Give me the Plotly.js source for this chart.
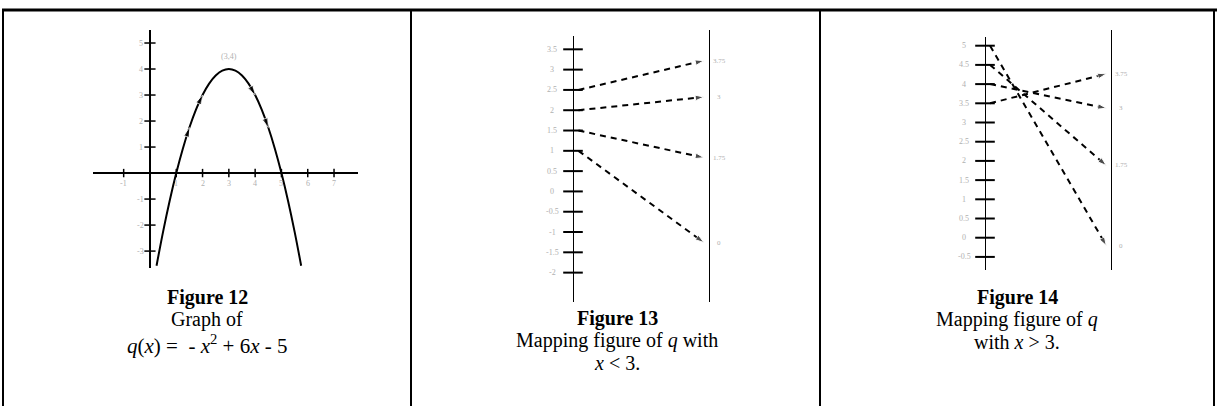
<!DOCTYPE html>
<html>
<head>
<meta charset="utf-8">
<script src="https://cdn.plot.ly/plotly-3.0.1.min.js"></script>
<style>
  html, body { margin: 0; padding: 0; background: #fff; }
  #chart { width: 1217px; height: 406px; }
</style>
</head>
<body>
<div id="chart"></div>
<script>
// ---- Figure 12: graph of q(x) = -x^2 + 6x - 5 ----
const curveX = [0.25, 0.5, 0.75, 1, 1.25, 1.5, 1.75, 2, 2.25, 2.5, 2.75, 3,
                3.25, 3.5, 3.75, 4, 4.25, 4.5, 4.75, 5, 5.25, 5.5, 5.75];
const curveY = [-3.5625, -2.25, -1.0625, 0, 0.9375, 1.75, 2.4375, 3, 3.4375, 3.75, 3.9375, 4,
                3.9375, 3.75, 3.4375, 3, 2.4375, 1.75, 0.9375, 0, -1.0625, -2.25, -3.5625];
const arrowAtX = [1.5, 2, 4, 4.5];
const xTicks12 = [-1, 1, 2, 3, 4, 5, 6, 7];
const yTicks12 = [5, 4, 3, 2, 1, -1, -2, -3];
const vertexX = 3;
const vertexY = 4;
const vertexLabel = '(3,4)';

// ---- Figure 13: mapping of q for x < 3 ----
const ticks13 = [3.5, 3, 2.5, 2, 1.5, 1, 0.5, 0, -0.5, -1, -1.5, -2];
const from13 = [2.5, 2, 1.5, 1];
const to13 = [3.75, 3, 1.75, 0];

// ---- Figure 14: mapping of q for x > 3 ----
const ticks14 = [5, 4.5, 4, 3.5, 3, 2.5, 2, 1.5, 1, 0.5, 0, -0.5];
const from14 = [5, 4.5, 4, 3.5];
const to14 = [0, 1.75, 3, 3.75];

// ---- captions: [text, font size, row offset] per line ----
const captions = [
  { cx: 207, top: 297, lines: [['<b>Figure 12</b>', 20, 0], ['Graph of', 20, 22],
    ['<i>q</i>(<i>x</i>) = &nbsp;- <i>x</i><sup>2</sup> + 6<i>x</i> - 5', 21, 47]] },
  { cx: 617, top: 318, lines: [['<b>Figure 13</b>', 20, 0], ['Mapping figure of <i>q</i> with', 20, 22],
    ['<i>x</i> &lt; 3.', 20, 45]] },
  { cx: 1017, top: 297, lines: [['<b>Figure 14</b>', 20, 0], ['Mapping figure of <i>q</i>', 20, 22],
    ['with <i>x</i> &gt; 3.', 20, 45]] }
];

const W = 1217, H = 406;
const px = p => p / W;          // pixel column -> paper x
const py = p => 1 - p / H;      // pixel row -> paper y
const SERIF = 'Liberation Serif, Times New Roman, serif';
const GREY = '#b0b0b0';

const traces = [];
const shapes = [];
const annotations = [];

// parabola with direction arrows
const arrowSizes = curveX.map(x => (arrowAtX.includes(x) ? 10 : 0));
traces.push({
  type: 'scatter', mode: 'lines+markers', x: curveX, y: curveY, xaxis: 'x', yaxis: 'y',
  line: { color: '#000', width: 2, shape: 'spline', smoothing: 1 },
  marker: { symbol: 'arrow', size: arrowSizes, angleref: 'previous', color: '#000' },
  hoverinfo: 'skip'
});
// tick marks on both axes of figure 12
traces.push({
  type: 'scatter', mode: 'markers', x: xTicks12, y: xTicks12.map(() => 0), xaxis: 'x', yaxis: 'y',
  marker: { symbol: 'line-ns', size: 6, line: { color: '#000', width: 1.5 } }, cliponaxis: false
});
traces.push({
  type: 'scatter', mode: 'markers', x: yTicks12.map(() => 0), y: yTicks12, xaxis: 'x', yaxis: 'y',
  marker: { symbol: 'line-ew', size: 8, line: { color: '#000', width: 1.5 } }, cliponaxis: false
});
xTicks12.forEach(v => annotations.push({
  xref: 'x', yref: 'y', x: v, y: 0, yshift: -10, text: String(v), showarrow: false,
  font: { family: SERIF, size: 8, color: GREY }
}));
yTicks12.forEach(v => annotations.push({
  xref: 'x', yref: 'y', x: 0, y: v, xshift: -9, text: String(v), showarrow: false,
  font: { family: SERIF, size: 8, color: GREY }
}));
annotations.push({
  xref: 'x', yref: 'y', x: vertexX, y: vertexY, yshift: 13, text: vertexLabel, showarrow: false,
  font: { family: SERIF, size: 8, color: GREY }
});

// mapping diagrams
const panels = [
  { xa: 'x2', ya: 'y2', ticks: ticks13, from: from13, to: to13,
    left: [-2.773, 4.025], right: [-1.268, 4.423], leftLine: [36, 302], rightLine: [30, 302] },
  { xa: 'x3', ya: 'y3', ticks: ticks14, from: from14, to: to14,
    left: [-0.893, 5.461], right: [-0.576, 4.751], leftLine: [37, 270], rightLine: [30, 270] }
];

panels.forEach(p => {
  // value on the right number line -> same height on the left axis scale
  const toLeft = q => p.left[0] + (q - p.right[0]) * (p.left[1] - p.left[0]) / (p.right[1] - p.right[0]);

  shapes.push({ type: 'line', xref: p.xa, yref: 'paper', x0: 0, x1: 0,
    y0: py(p.leftLine[0]), y1: py(p.leftLine[1]), line: { color: '#000', width: 2 } });
  shapes.push({ type: 'line', xref: p.xa, yref: 'paper', x0: 1, x1: 1,
    y0: py(p.rightLine[0]), y1: py(p.rightLine[1]), line: { color: '#000', width: 2 } });

  traces.push({
    type: 'scatter', mode: 'markers', x: p.ticks.map(() => 0), y: p.ticks, xaxis: p.xa, yaxis: p.ya,
    marker: { symbol: 'line-ew', size: 14, line: { color: '#000', width: 2 } }, cliponaxis: false
  });
  p.ticks.forEach(v => annotations.push({
    xref: p.xa, yref: p.ya, x: 0, y: v, xshift: -21, text: String(v), showarrow: false,
    font: { family: SERIF, size: 8, color: GREY }
  }));

  p.from.forEach((v, i) => {
    traces.push({
      type: 'scatter', mode: 'lines+markers', x: [0.04, 0.955], y: [v, toLeft(p.to[i])],
      xaxis: p.xa, yaxis: p.ya,
      line: { color: '#000', width: 2, dash: '6px,5px' },
      marker: { symbol: 'arrow', size: [0, 9], angleref: 'previous', color: '#000' },
      cliponaxis: false
    });
    annotations.push({
      xref: p.xa, yref: p.ya, x: 1, y: toLeft(p.to[i]), xshift: 9, text: String(p.to[i]),
      showarrow: false, font: { family: SERIF, size: 7, color: GREY }
    });
  });
});

// table rules
const rule = (x0, y0, x1, y1, w) => shapes.push({ type: 'line', xref: 'paper', yref: 'paper',
  x0: px(x0), y0: py(y0), x1: px(x1), y1: py(y1), line: { color: '#000', width: w } });
rule(2, 10, 1217, 10, 3);
rule(3, 9, 3, 406, 2);
rule(411, 9, 411, 406, 2);
rule(820, 9, 820, 406, 2);
rule(1214, 9, 1214, 406, 2);

// captions, one line per annotation
captions.forEach(c => c.lines.forEach(([t, s, dy]) => annotations.push({
  xref: 'paper', yref: 'paper', x: px(c.cx), y: py(c.top + dy), xanchor: 'center', yanchor: 'middle',
  text: t, showarrow: false, font: { family: SERIF, size: s, color: '#000' }
})));

const hidden = { visible: false, fixedrange: true };
const layout = {
  width: W, height: H, margin: { l: 0, r: 0, t: 0, b: 0 },
  paper_bgcolor: '#fff', plot_bgcolor: 'rgba(0,0,0,0)', showlegend: false,
  xaxis: { domain: [px(92.9), px(357.7)], range: [-2.17, 7.9], anchor: 'y',
    showgrid: false, showticklabels: false, ticks: '', showline: false,
    zeroline: true, zerolinecolor: '#000', zerolinewidth: 2 },
  yaxis: { domain: [py(268), py(30)], range: [-3.65, 5.5], anchor: 'x',
    showgrid: false, showticklabels: false, ticks: '', showline: false,
    zeroline: true, zerolinecolor: '#000', zerolinewidth: 2 },
  xaxis2: Object.assign({ domain: [px(573), px(710)], range: [0, 1], anchor: 'y2' }, hidden),
  yaxis2: Object.assign({ domain: [py(304), py(28)], range: panels[0].left, anchor: 'x2' }, hidden),
  xaxis3: Object.assign({ domain: [px(985), px(1112)], range: [0, 1], anchor: 'y3' }, hidden),
  yaxis3: Object.assign({ domain: [py(272), py(28)], range: panels[1].left, anchor: 'x3' }, hidden),
  shapes: shapes,
  annotations: annotations
};

Plotly.newPlot('chart', traces, layout, { staticPlot: true, displayModeBar: false });
</script>
</body>
</html>
